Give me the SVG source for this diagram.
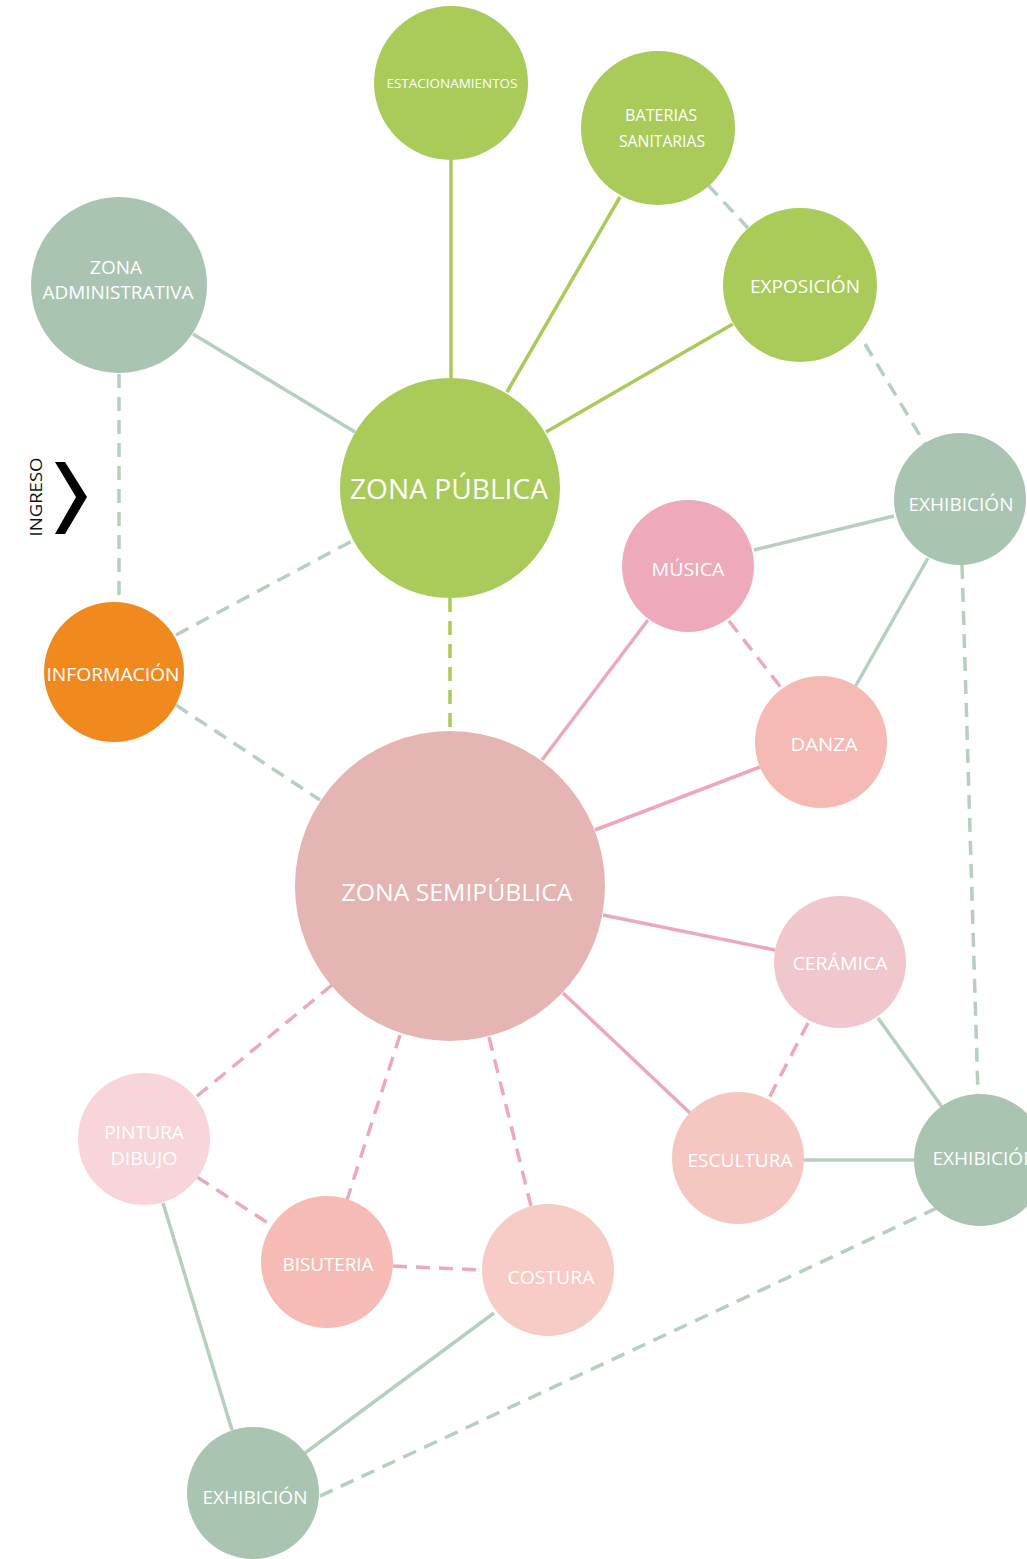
<svg xmlns="http://www.w3.org/2000/svg" width="1027" height="1559" viewBox="0 0 1027 1559">
<style>
.t{font-family:"Open Sans","Liberation Sans",sans-serif;fill:#ffffff;text-anchor:middle;}
.g{fill:#aaca5a;}
.s{fill:#a9c4b1;}
.ls{stroke:#b7cfbf;stroke-width:3.5;fill:none;}
.lg{stroke:#aaca5a;stroke-width:3.5;fill:none;}
.lp{stroke:#eda9bc;stroke-width:3.5;fill:none;}
.d{stroke-dasharray:14 9;}
</style>
<rect width="1027" height="1559" fill="#ffffff"/>
<g id="connectors">
<line class="lg" x1="451" y1="160" x2="451" y2="380"/>
<line class="lg" x1="620" y1="197" x2="507" y2="392"/>
<line class="lg" x1="733" y1="324" x2="546" y2="432"/>
<line class="ls" x1="193" y1="334" x2="355" y2="432"/>
<line class="ls d" x1="708" y1="185" x2="748" y2="228"/>
<line class="ls d" x1="865" y1="344" x2="925" y2="444"/>
<line class="ls d" x1="119" y1="374" x2="119" y2="602"/>
<line class="ls d" x1="176" y1="635" x2="352" y2="541"/>
<line class="ls d" x1="176" y1="705" x2="320" y2="800"/>
<line class="ls d" x1="962" y1="565" x2="978" y2="1095"/>
<line class="ls d" x1="937" y1="1208" x2="318" y2="1497"/>
<line class="lg d" x1="450" y1="598" x2="450" y2="731"/>
<line class="ls" x1="754" y1="550" x2="894" y2="516"/>
<line class="ls" x1="855" y1="687" x2="928" y2="558"/>
<line class="ls" x1="878" y1="1018" x2="942" y2="1107"/>
<line class="ls" x1="804" y1="1160" x2="914" y2="1160"/>
<line class="ls" x1="163" y1="1203" x2="232" y2="1430"/>
<line class="ls" x1="494" y1="1313" x2="305" y2="1453"/>
<line class="lp" x1="542" y1="760" x2="648" y2="620"/>
<line class="lp" x1="595" y1="830" x2="760" y2="767"/>
<line class="lp" x1="603" y1="915" x2="775" y2="950"/>
<line class="lp" x1="563" y1="993" x2="690" y2="1113"/>
<line class="lp d" x1="729" y1="621" x2="783" y2="690"/>
<line class="lp d" x1="808" y1="1023" x2="768" y2="1100"/>
<line class="lp d" x1="332" y1="985" x2="196" y2="1097"/>
<line class="lp d" x1="400" y1="1035" x2="347" y2="1200"/>
<line class="lp d" x1="489" y1="1037" x2="531" y2="1206"/>
<line class="lp d" x1="197" y1="1177" x2="271" y2="1225"/>
<line class="lp d" x1="393" y1="1266" x2="482" y2="1270"/>
</g>
<g id="ingreso">
<text x="0" y="0" transform="translate(42,497) rotate(-90)" style="font-family:'Open Sans','Liberation Sans',sans-serif;font-size:17px;fill:#111;text-anchor:middle" textLength="79" lengthAdjust="spacingAndGlyphs">INGRESO</text>
<polygon points="55,462 65,462 87,497 65,534 55,534 76,497" fill="#000"/>
</g>
<g id="estacionamientos"><circle class="g" cx="451" cy="83" r="77"/><text class="t" x="452" y="88" font-size="13" textLength="131" lengthAdjust="spacingAndGlyphs">ESTACIONAMIENTOS</text></g>
<g id="baterias"><circle class="g" cx="658" cy="128" r="77"/><text class="t" x="661" y="121" font-size="17" textLength="72" lengthAdjust="spacingAndGlyphs">BATERIAS</text><text class="t" x="662" y="147" font-size="17" textLength="86" lengthAdjust="spacingAndGlyphs">SANITARIAS</text></g>
<g id="exposicion"><circle class="g" cx="800" cy="285" r="77"/><text class="t" x="805" y="293" font-size="19" textLength="110" lengthAdjust="spacingAndGlyphs">EXPOSICIÓN</text></g>
<g id="zona-administrativa"><circle class="s" cx="119" cy="285" r="88"/><text class="t" x="116" y="274" font-size="19" textLength="52" lengthAdjust="spacingAndGlyphs">ZONA</text><text class="t" x="118" y="299" font-size="19" textLength="151" lengthAdjust="spacingAndGlyphs">ADMINISTRATIVA</text></g>
<g id="zona-publica"><circle class="g" cx="450" cy="488" r="110"/><text class="t" x="449" y="499" font-size="28" textLength="198" lengthAdjust="spacingAndGlyphs">ZONA PÚBLICA</text></g>
<g id="exhibicion-1"><circle class="s" cx="960" cy="499" r="66"/><text class="t" x="961" y="511" font-size="19" textLength="105" lengthAdjust="spacingAndGlyphs">EXHIBICIÓN</text></g>
<g id="musica"><circle fill="#eeaabb" cx="688" cy="566" r="66"/><text class="t" x="688" y="576" font-size="19" textLength="73" lengthAdjust="spacingAndGlyphs">MÚSICA</text></g>
<g id="informacion"><circle fill="#f08a1e" cx="114" cy="672" r="70"/><text class="t" x="113" y="681" font-size="19" textLength="133" lengthAdjust="spacingAndGlyphs">INFORMACIÓN</text></g>
<g id="danza"><circle fill="#f6bab5" cx="821" cy="742" r="66"/><text class="t" x="824" y="751" font-size="19" textLength="67" lengthAdjust="spacingAndGlyphs">DANZA</text></g>
<g id="zona-semipublica"><circle fill="#e4b5b3" cx="450" cy="886" r="155"/><text class="t" x="457" y="901" font-size="24" textLength="231" lengthAdjust="spacingAndGlyphs">ZONA SEMIPÚBLICA</text></g>
<g id="ceramica"><circle fill="#efc7cd" cx="840" cy="962" r="66"/><text class="t" x="840" y="970" font-size="19" textLength="95" lengthAdjust="spacingAndGlyphs">CERÁMICA</text></g>
<g id="pintura"><circle fill="#f8d4db" cx="144" cy="1139" r="66"/><text class="t" x="144" y="1139" font-size="19" textLength="80" lengthAdjust="spacingAndGlyphs">PINTURA</text><text class="t" x="144" y="1165" font-size="19" textLength="67" lengthAdjust="spacingAndGlyphs">DIBUJO</text></g>
<g id="bisuteria"><circle fill="#f6bbb4" cx="327" cy="1262" r="66"/><text class="t" x="328" y="1271" font-size="19" textLength="91" lengthAdjust="spacingAndGlyphs">BISUTERIA</text></g>
<g id="costura"><circle fill="#f7cbc6" cx="548" cy="1270" r="66"/><text class="t" x="551" y="1284" font-size="19" textLength="87" lengthAdjust="spacingAndGlyphs">COSTURA</text></g>
<g id="escultura"><circle fill="#f6c7c1" cx="738" cy="1158" r="66"/><text class="t" x="740" y="1167" font-size="19" textLength="105" lengthAdjust="spacingAndGlyphs">ESCULTURA</text></g>
<g id="exhibicion-2"><circle class="s" cx="980" cy="1160" r="66"/><text class="t" x="985" y="1165" font-size="19" textLength="105" lengthAdjust="spacingAndGlyphs">EXHIBICIÓN</text></g>
<g id="exhibicion-3"><circle class="s" cx="253" cy="1493" r="66"/><text class="t" x="255" y="1504" font-size="19" textLength="105" lengthAdjust="spacingAndGlyphs">EXHIBICIÓN</text></g>
</svg>
